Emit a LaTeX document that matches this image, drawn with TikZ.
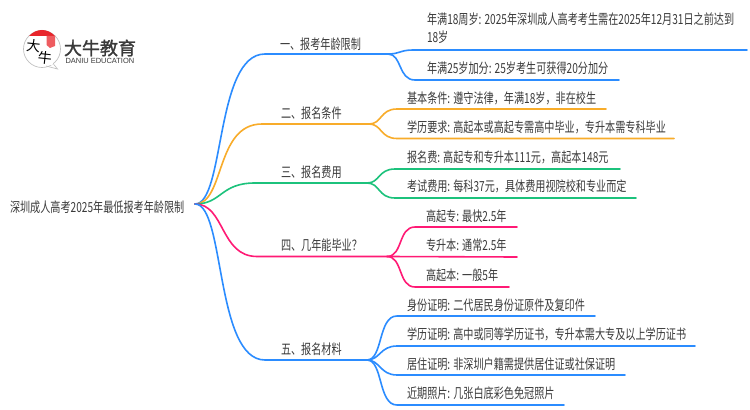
\documentclass[tikz,border=0pt]{standalone}
\usepackage{fontspec}
\setmainfont{Noto Sans CJK SC}[FakeStretch=0.73]
\newfontfamily\logofont{Noto Sans CJK SC}[FakeBold=1.5]
\newfontfamily\brushfont{Noto Sans CJK SC}
\newfontfamily\latinlogo{Liberation Sans}
\definecolor{cblue}{HTML}{2B8CFF}
\definecolor{corange}{HTML}{F8AC2A}
\definecolor{cgreen}{HTML}{1CC27C}
\definecolor{cpink}{HTML}{FF1A75}
\definecolor{ctext}{HTML}{3A3A3A}
\definecolor{cred}{HTML}{E8252B}
\tikzset{
  every node/.style={inner sep=0pt,outer sep=0pt,text=ctext,font=\fontsize{10.4pt}{13.5pt}\selectfont},
  lab/.style={anchor=west,align=left},
  conn/.style={line width=1.2pt,line cap=round},
  brush/.style={text=black,font=\brushfont\fontsize{10.5pt}{10.5pt}\selectfont},
}
\begin{document}
\begin{tikzpicture}[x=0.75pt,y=-0.75pt]
\useasboundingbox (0,0) rectangle (750,410);
\fill[white] (0,0) rectangle (750,410);
% logo
\draw[black!25,line width=0.5pt,fill=white] (53,63.5) -- (57.5,69) -- (46,66);
\draw[black!25,line width=0.5pt] (42,49) circle[radius=18.5];
\fill[white] (52,62) -- (53.5,64.5) -- (47,65.5) -- cycle;
\fill[cred] (29,36) .. controls (33,32) and (37,30) .. (42,30) .. controls (47,30) and (51,32) .. (55,36) -- cycle;
\fill[cred!75!white] (46.5,36) -- (55,36) -- (55,46) -- (50,48) -- (46.5,45) -- cycle;
\node[brush,rotate=-6] (lda) at (33.5,45.5) {大};
\node[brush,rotate=-6] (lniu) at (45,58) {牛};
\node[text=ctext,font=\logofont\fontsize{13.5pt}{14pt}\selectfont,anchor=west] (lname) at (64,48) {大牛教育};
\node[text=ctext,font=\latinlogo\fontsize{5.6pt}{6pt}\selectfont,anchor=west] (len) at (65.5,60.5) {DANIU EDUCATION};
% nodes
\node[lab] (root) at (10,207) {深圳成人高考2025年最低报考年龄限制};
\coordinate (o) at (195,204);
\node[lab] (b1) at (280,44) {一、报考年龄限制};
\node[lab] (b2) at (281,113) {二、报名条件};
\node[lab] (b3) at (281,172) {三、报名费用};
\node[lab] (b4) at (281,245) {四、几年能毕业？};
\node[lab] (b5) at (281,349) {五、报名材料};
\node[lab] (l11) at (427,28) {年满18周岁: 2025年深圳成人高考考生需在2025年12月31日之前达到\\18岁};
\node[lab] (l12) at (427,68) {年满25岁加分: 25岁考生可获得20分加分};
\node[lab] (l21) at (407,98) {基本条件: 遵守法律，年满18岁，非在校生};
\node[lab] (l22) at (407,127) {学历要求: 高起本或高起专需高中毕业，专升本需专科毕业};
\node[lab] (l31) at (407,157) {报名费: 高起专和专升本111元，高起本148元};
\node[lab] (l32) at (407,186) {考试费用: 每科37元，具体费用视院校和专业而定};
\node[lab] (l41) at (426,216) {高起专: 最快2.5年};
\node[lab] (l42) at (426,245) {专升本: 通常2.5年};
\node[lab] (l43) at (426,275) {高起本: 一般5年};
\node[lab] (l51) at (407,305) {身份证明: 二代居民身份证原件及复印件};
\node[lab] (l52) at (407,334) {学历证明: 高中或同等学历证书，专升本需大专及以上学历证书};
\node[lab] (l53) at (407,364) {居住证明: 非深圳户籍需提供居住证或社保证明};
\node[lab] (l54) at (407,393) {近期照片: 几张白底彩色免冠照片};
% junctions
\coordinate (j1) at (388,54);
\coordinate (j2) at (369,124);
\coordinate (j3) at (367,183);
\coordinate (j4) at (387,256.5);
\coordinate (j5) at (367,360);
% main branches
\draw[conn,cblue] (o) .. controls (225,204) and (215,54) .. (265,54) -- (j1);
\draw[conn,corange] (o) .. controls (225,204) and (215,124) .. (262,124) -- (j2);
\draw[conn,cgreen] (o) .. controls (222,204) and (220,183) .. (255,183) -- (j3);
\draw[conn,cpink] (o) .. controls (225,204) and (220,256.5) .. (257,256.5) -- (j4);
\draw[conn,cblue] (o) .. controls (225,204) and (215,360) .. (265,360) -- (j5);
% leaves
\draw[conn,cblue] (j1) .. controls (400,54) and (400,50) .. (413,50) -- (747,50);
\draw[conn,cblue] (j1) .. controls (402,54) and (398,80) .. (415,80) -- (619,80);
\draw[conn,corange] (j2) .. controls (382,124) and (380,109) .. (397,109) -- (606,109);
\draw[conn,corange] (j2) .. controls (382,124) and (380,138.5) .. (397,138.5) -- (674,138.5);
\draw[conn,cgreen] (j3) .. controls (380,183) and (378,169) .. (395,169) -- (620,169);
\draw[conn,cgreen] (j3) .. controls (380,183) and (378,198) .. (395,198) -- (636,198);
\draw[conn,cpink] (j4) .. controls (403,256.5) and (398,227) .. (415,227) -- (517,227);
\draw[conn,cpink] (j4) -- (517,257);
\draw[conn,cpink] (j4) .. controls (403,256.5) and (398,287) .. (415,287) -- (509,287);
\draw[conn,cblue] (j5) .. controls (383,360) and (378,316) .. (397,316) -- (595,316);
\draw[conn,cblue] (j5) .. controls (380,360) and (380,346) .. (397,346) -- (695,346);
\draw[conn,cblue] (j5) .. controls (380,360) and (380,375) .. (397,375) -- (625,375);
\draw[conn,cblue] (j5) .. controls (383,360) and (378,405) .. (397,405) -- (564,405);
\end{tikzpicture}
\end{document}
